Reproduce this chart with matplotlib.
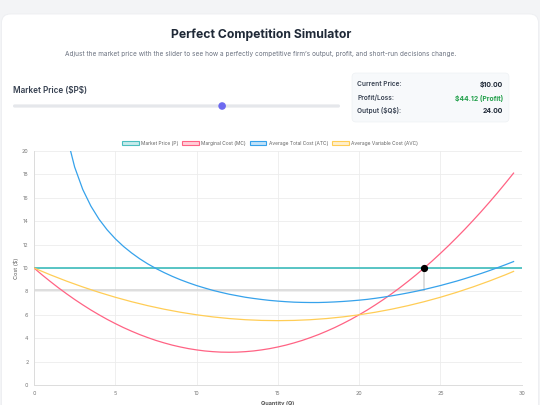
import matplotlib
matplotlib.use("Agg")
import matplotlib.pyplot as plt
from matplotlib.patches import FancyBboxPatch, Circle, Patch
import numpy as np

plt.rcParams['font.family'] = ['Inter', 'DejaVu Sans']

# ---------------- data ----------------
quantity = [0, 0.5, 1, 1.5, 2, 2.5, 3, 3.5, 4, 4.5, 5, 5.5, 6, 6.5, 7, 7.5, 8, 8.5, 9, 9.5,
            10, 10.5, 11, 11.5, 12, 12.5, 13, 13.5, 14, 14.5, 15, 15.5, 16, 16.5, 17, 17.5,
            18, 18.5, 19, 19.5, 20, 20.5, 21, 21.5, 22, 22.5, 23, 23.5, 24, 24.5, 25, 25.5,
            26, 26.5, 27, 27.5, 28, 28.5, 29, 29.5]
mc = [10.0, 9.41, 8.85, 8.31, 7.8, 7.31, 6.85, 6.41, 6.0, 5.61, 5.25, 4.91, 4.6, 4.31, 4.05,
      3.81, 3.6, 3.41, 3.25, 3.11, 3.0, 2.91, 2.85, 2.81, 2.8, 2.81, 2.85, 2.91, 3.0, 3.11,
      3.25, 3.41, 3.6, 3.81, 4.05, 4.31, 4.6, 4.91, 5.25, 5.61, 6.0, 6.41, 6.85, 7.31, 7.8,
      8.31, 8.85, 9.41, 10.0, 10.61, 11.25, 11.91, 12.6, 13.31, 14.05, 14.81, 15.6, 16.41,
      17.25, 18.11]
atc = [np.nan, 59.71, 34.42, 25.81, 21.38, 18.63, 16.71, 15.29, 14.17, 13.26, 12.5, 11.85,
       11.29, 10.79, 10.35, 9.96, 9.61, 9.29, 9.0, 8.74, 8.5, 8.29, 8.09, 7.92, 7.76, 7.63,
       7.5, 7.4, 7.31, 7.23, 7.17, 7.12, 7.08, 7.06, 7.05, 7.05, 7.07, 7.1, 7.14, 7.19, 7.25,
       7.32, 7.41, 7.51, 7.62, 7.74, 7.87, 8.01, 8.16, 8.33, 8.5, 8.69, 8.88, 9.09, 9.31,
       9.53, 9.77, 10.02, 10.28, 10.55]
avc = [10.0, 9.71, 9.42, 9.15, 8.88, 8.63, 8.38, 8.15, 7.92, 7.71, 7.5, 7.31, 7.12, 6.95,
       6.78, 6.63, 6.48, 6.35, 6.22, 6.11, 6.0, 5.91, 5.82, 5.75, 5.68, 5.63, 5.58, 5.55,
       5.52, 5.51, 5.5, 5.51, 5.52, 5.55, 5.58, 5.63, 5.68, 5.75, 5.82, 5.91, 6.0, 6.11,
       6.22, 6.35, 6.48, 6.63, 6.78, 6.95, 7.12, 7.31, 7.5, 7.71, 7.92, 8.15, 8.38, 8.63,
       8.88, 9.15, 9.42, 9.71]
market_price = 10.0
q_star = 24.0
atc_at_q_star = 8.16
price_min, price_max = 1, 15
price_range_q = [0, 30]

legend_labels = ["Market Price (P)", "Marginal Cost (MC)",
                 "Average Total Cost (ATC)", "Average Variable Cost (AVC)"]
x_ticks = [0, 5, 10, 15, 20, 25, 30]
y_ticks = [0, 2, 4, 6, 8, 10, 12, 14, 16, 18, 20]

stat_labels = ["Current Price:", "Profit/Loss:", r"Output (\$Q\$):"]
stat_values = ["$10.00", "$44.12 (Profit)", "24.00"]

# ---------------- colours ----------------
C_P = (75/255, 192/255, 192/255)
C_MC = (255/255, 99/255, 132/255)
C_ATC = (54/255, 162/255, 235/255)
C_AVC = (255/255, 205/255, 86/255)

W, H = 540, 405
fig = plt.figure(figsize=(W/100, H/100), dpi=100)
fig.patch.set_facecolor('#f3f4f6')

bg = fig.add_axes([0, 0, 1, 1], zorder=0)
bg.set_xlim(0, W)
bg.set_ylim(H, 0)
bg.axis('off')

# card
bg.add_patch(FancyBboxPatch((1.5, 14), 537, 420, boxstyle="round,pad=0,rounding_size=9",
                            facecolor='white', edgecolor='#eceef1', lw=0.6))

bg.text(261, 35, "Perfect Competition Simulator", ha='center', va='center',
        fontsize=8.8, fontweight='bold', color='#1f2937')
bg.text(261, 54, "Adjust the market price with the slider to see how a perfectly competitive "
        "firm\u2019s output, profit, and short-run decisions change.",
        ha='center', va='center', fontsize=4.65, color='#6b7280')

bg.text(13, 91, r"Market Price (\$P\$)", ha='left', va='center', fontsize=5.9,
        fontweight='semibold', color='#374151')

# slider
track_x0, track_x1, track_y = 13, 340, 106
bg.add_patch(FancyBboxPatch((track_x0, track_y - 1.6), track_x1 - track_x0, 3.2,
                            boxstyle="round,pad=0,rounding_size=1.6",
                            facecolor='#e5e7eb', edgecolor='none'))
thumb_r = 3.8
frac = (market_price - price_min) / (price_max - price_min)
thumb_x = track_x0 + thumb_r + frac * (track_x1 - track_x0 - 2 * thumb_r)
bg.add_patch(Circle((thumb_x, track_y), thumb_r, facecolor='#6d6af0', edgecolor='none'))

# stats box
bg.add_patch(FancyBboxPatch((352, 73), 157, 49, boxstyle="round,pad=0,rounding_size=4",
                            facecolor='#f7f9fb', edgecolor='#eef1f4', lw=0.5))
stat_y = [84, 98, 111]
for lab, val, yy in zip(stat_labels, stat_values, stat_y):
    bg.text(357, yy, lab, ha='left', va='center', fontsize=4.7, fontweight='semibold',
            color='#374151')
    col = '#22a04b' if 'Profit' in val else '#1f2937'
    bg.text(503, yy, val.replace('$', r'\$'), ha='right', va='center', fontsize=4.9,
            fontweight='bold', color=col)

# ---------------- chart ----------------
ax = fig.add_axes([34/W, 1 - 385/H, (521.7 - 34)/W, (385 - 151)/H], zorder=2)
ax.set_facecolor('none')
ax.set_xlim(0, 30)
ax.set_ylim(0, 20)
ax.set_xticks(x_ticks)
ax.set_yticks(y_ticks)
ax.grid(True, color='#ececec', lw=0.6)
ax.set_axisbelow(True)
for s in ['top', 'right']:
    ax.spines[s].set_visible(False)
for s in ['left', 'bottom']:
    ax.spines[s].set_color('#dcdcdc')
    ax.spines[s].set_linewidth(0.7)
ax.tick_params(length=0, labelsize=3.9, labelcolor='#777777', pad=4)
ax.set_xlabel("Quantity (Q)", fontsize=4.0, fontweight='bold', color='#555555', labelpad=4)
ax.set_ylabel("Cost ($)", fontsize=4.0, color='#555555', labelpad=2)

# profit outline (gray)
ax.plot([0, q_star], [atc_at_q_star, atc_at_q_star], color='#d4d4d4', lw=1.1, zorder=2)
ax.plot([q_star, q_star], [atc_at_q_star, market_price], color='#d4d4d4', lw=1.1, zorder=2)

ax.plot(price_range_q, [market_price, market_price], color=C_P, lw=1.3, zorder=3)
ax.plot(quantity, mc, color=C_MC, lw=0.9, zorder=3)
ax.plot(quantity, atc, color=C_ATC, lw=0.9, zorder=3)
ax.plot(quantity, avc, color=C_AVC, lw=0.9, zorder=3)
ax.plot([q_star], [market_price], 'o', color='black', ms=4.2, zorder=5, clip_on=False)

handles = [Patch(facecolor=(*c, 0.3), edgecolor=c, lw=0.8) for c in [C_P, C_MC, C_ATC, C_AVC]]
fig.legend(handles, legend_labels, loc='center', bbox_to_anchor=(270/W, 1 - 143/H),
           ncol=4, frameon=False, fontsize=3.5, handlelength=3.4, handleheight=0.9,
           handletextpad=0.5, columnspacing=0.8, labelcolor='#666666')

fig.savefig("out.png", dpi=100, facecolor=fig.get_facecolor())
